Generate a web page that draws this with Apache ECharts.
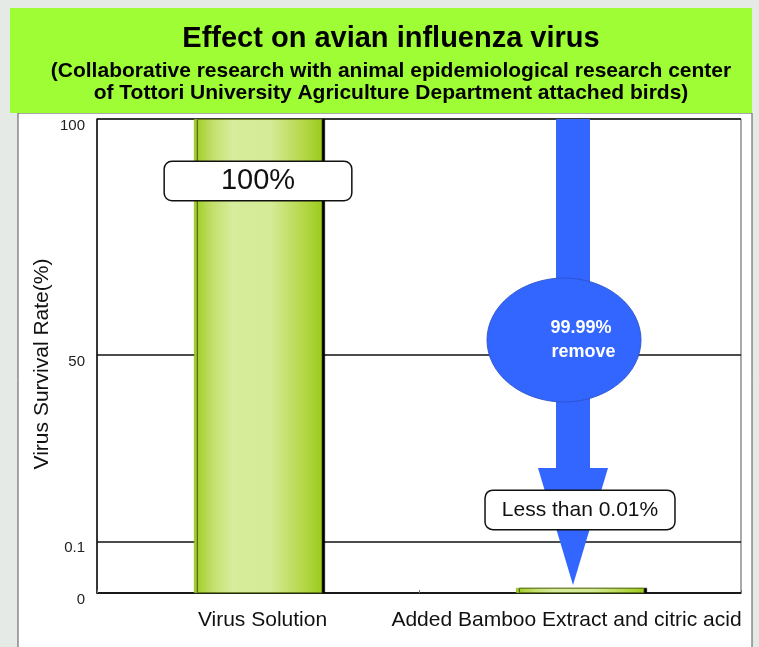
<!DOCTYPE html>
<html>
<head>
<meta charset="utf-8">
<script src="https://cdn.jsdelivr.net/npm/echarts@6/dist/echarts.min.js"></script>
<style>
  html, body { margin: 0; padding: 0; background: #e6eae6; }
  #main { width: 759px; height: 647px; }
</style>
</head>
<body>
<div id="main"></div>
<script>
// data
const categories = ['Virus Solution', 'Added Bamboo Extract and citric acid']
const survival = [100, 0.01]
const barLabels = ['100%', 'Less than 0.01%']
const yTicks = [0, 0.1, 50, 100]
const yTickLabels = ['0', '0.1', '50', '100']

// the y axis is broken: each tick interval has its own length
const yStops = [0, 0.108, 0.502, 1]
function scaleY(v) {
    for (let i = 1; i < yTicks.length; i++) {
        if (v <= yTicks[i]) {
            const t = (v - yTicks[i - 1]) / (yTicks[i] - yTicks[i - 1])
            return yStops[i - 1] + t * (yStops[i] - yStops[i - 1])
        }
    }
    return 1
}

const font = 'Liberation Sans, Arial, sans-serif'
const chart = echarts.init(document.getElementById('main'), null, { renderer: 'canvas' })

const barColor = new echarts.graphic.LinearGradient(0, 0, 1, 0, [
    { offset: 0, color: '#9dcb1d' },
    { offset: 0.15, color: '#c4e06e' },
    { offset: 0.3, color: '#d7ec9c' },
    { offset: 0.6, color: '#d5eb96' },
    { offset: 0.85, color: '#b5d84a' },
    { offset: 1, color: '#9ccb1c' }
])

chart.setOption({
    backgroundColor: '#e6eae6',
    animation: false,
    title: {
        text: 'Effect on avian influenza virus',
        subtext: '(Collaborative research with animal epidemiological research center\nof Tottori University Agriculture Department attached birds)',
        left: 386,
        textAlign: 'center',
        top: 18,
        itemGap: 5,
        textStyle: { fontFamily: font, fontSize: 29, fontWeight: 'bold', color: '#000', lineHeight: 32 },
        subtextStyle: { fontFamily: font, fontSize: 21, fontWeight: 'bold', color: '#000', lineHeight: 22 }
    },
    grid: {
        left: 97,
        right: 18,
        top: 119,
        bottom: 54,
        show: true,
        backgroundColor: '#fff',
        borderColor: '#555',
        borderWidth: 1
    },
    xAxis: {
        type: 'category',
        data: categories.map((c, i) => ({
            value: c,
            textStyle: { padding: i === 0 ? [0, 0, 0, 9] : [0, 27, 0, 0] }
        })),
        axisLine: { lineStyle: { color: '#111', width: 1.5 } },
        axisTick: { show: true, inside: true, length: 3, lineStyle: { color: '#777' } },
        axisLabel: { interval: 0, hideOverlap: false, fontFamily: font, fontSize: 21, color: '#111', margin: 17 }
    },
    yAxis: {
        type: 'value',
        min: 0,
        max: 1,
        name: 'Virus Survival Rate(%)',
        nameLocation: 'middle',
        nameGap: 44,
        nameMoveOverlap: false,
        nameTextStyle: { fontFamily: font, fontSize: 21, color: '#111', padding: [0, 16, 0, 0] },
        axisLine: { show: true, lineStyle: { color: '#111', width: 1.5 } },
        axisTick: { show: false, customValues: yTicks.map(scaleY) },
        axisLabel: {
            customValues: yTicks.map(scaleY),
            fontFamily: font,
            fontSize: 15,
            color: '#222',
            margin: 12,
            formatter: function (val) {
                const i = yTicks.findIndex(t => Math.abs(scaleY(t) - val) < 1e-6)
                return i >= 0 ? '{a|' + yTickLabels[i] + '}' : ''
            },
            rich: { a: { fontFamily: font, fontSize: 15, color: '#222', padding: [13, 0, 0, 0] } }
        },
        splitLine: { show: true, lineStyle: { color: '#111', width: 1.5 } }
    },
    series: [{
        type: 'bar',
        z: 6,
        barWidth: 128,
        data: survival.map((v, i) => ({
            value: scaleY(v),
            label: i === 0
                ? { show: true, position: 'insideTop', distance: 43, fontSize: 29, padding: [3, 56], lineHeight: 32 }
                : { show: true, position: 'top', distance: 59, fontSize: 21, padding: [8, 16], lineHeight: 22 }
        })),
        itemStyle: {
            color: barColor,
            borderColor: '#8fb21a',
            borderWidth: 0.6,
            shadowColor: '#000',
            shadowOffsetX: 3,
            shadowOffsetY: 0,
            shadowBlur: 0
        },
        label: {
            fontFamily: font,
            color: '#111',
            backgroundColor: '#fff',
            borderColor: '#111',
            borderWidth: 1.5,
            borderRadius: 7,
            formatter: p => barLabels[p.dataIndex]
        }
    }],
    graphic: [
        {
            type: 'rect', z: -10, silent: true,
            shape: { x: 18, y: 113, width: 734, height: 540 },
            style: { fill: '#fff', stroke: '#555', lineWidth: 1 }
        },
        {
            type: 'rect', z: -9, silent: true,
            shape: { x: 10, y: 8, width: 742, height: 105 },
            style: { fill: '#9ffd36' }
        },
        {
            type: 'polygon', z: 3, silent: true,
            shape: {
                points: [[556, 119], [590, 119], [590, 468], [608, 468], [573, 585], [538, 468], [556, 468]]
            },
            style: { fill: '#3366ff' }
        },
        {
            type: 'circle', z: 4, silent: true,
            x: 564, y: 340, scaleX: 77 / 62, scaleY: 1,
            shape: { cx: 0, cy: 0, r: 62 },
            style: { fill: '#3366ff', stroke: '#2a52c8', lineWidth: 0.8 }
        },
        {
            type: 'text', z: 5, silent: true,
            x: 581, y: 340,
            style: {
                text: '99.99%\n remove',
                fill: '#fff',
                font: 'bold 18px ' + font,
                textAlign: 'center',
                textVerticalAlign: 'middle',
                lineHeight: 24
            }
        }
    ]
})
</script>
</body>
</html>
